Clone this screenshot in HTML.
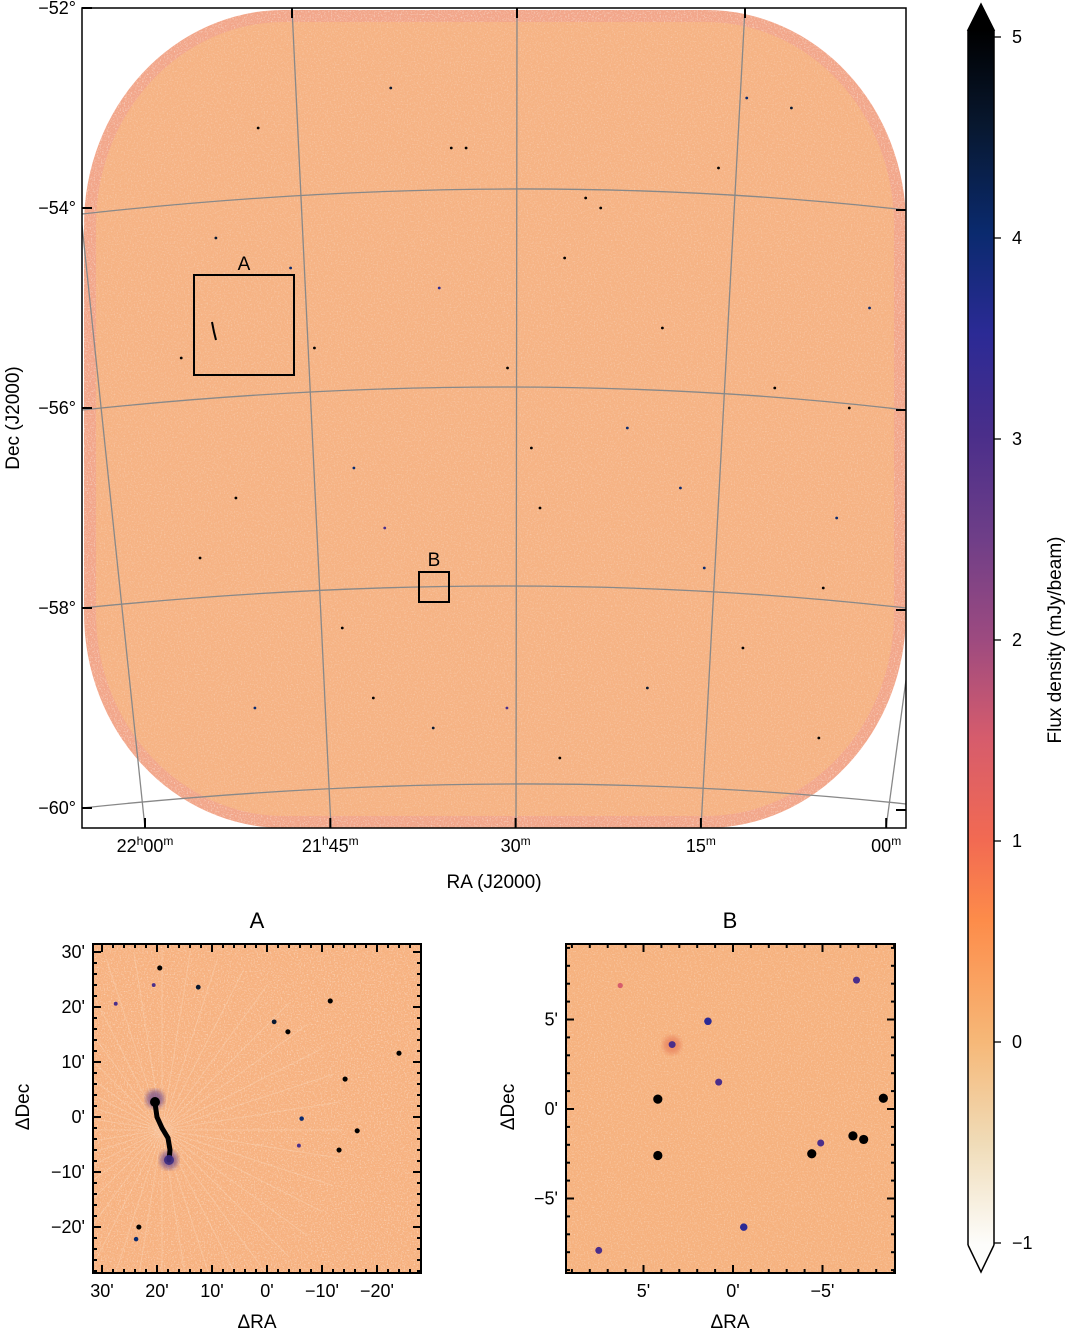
<!DOCTYPE html>
<html><head><meta charset="utf-8"><style>
html,body{margin:0;padding:0;background:#fff;}
svg{display:block;font-family:"Liberation Sans","DejaVu Sans",sans-serif;}
</style></head><body>
<svg id="fig" width="1067" height="1330" viewBox="0 0 1067 1330" xmlns="http://www.w3.org/2000/svg">
<defs>
<linearGradient id="cmap" x1="0" y1="1" x2="0" y2="0">
<stop offset="0" stop-color="#fdfdfb"/><stop offset="0.083" stop-color="#f0dcb8"/>
<stop offset="0.167" stop-color="#f6b878"/><stop offset="0.267" stop-color="#fd8c4a"/>
<stop offset="0.333" stop-color="#f26a52"/><stop offset="0.417" stop-color="#d65c6c"/>
<stop offset="0.5" stop-color="#9c4a80"/><stop offset="0.583" stop-color="#6e3e88"/>
<stop offset="0.667" stop-color="#4a2e8a"/><stop offset="0.75" stop-color="#2b2a95"/>
<stop offset="0.833" stop-color="#0a2a6e"/><stop offset="0.92" stop-color="#081830"/>
<stop offset="1" stop-color="#000"/></linearGradient>
<filter id="noise" x="0" y="0" width="100%" height="100%">
<feTurbulence type="fractalNoise" baseFrequency="0.9" numOctaves="2" seed="3"/>
<feColorMatrix type="matrix" values="0 0 0 0 1  0 0 0 0 0.45  0 0 0 0 0.3  0 0 0 1.6 -0.75"/>
<feComposite in2="SourceGraphic" operator="in"/></filter>
<filter id="noise2" x="0" y="0" width="100%" height="100%">
<feTurbulence type="fractalNoise" baseFrequency="0.7" numOctaves="2" seed="9"/>
<feColorMatrix type="matrix" values="0 0 0 0 1  0 0 0 0 0.95  0 0 0 0 0.9  0 0 0 1.6 -0.8"/>
<feComposite in2="SourceGraphic" operator="in"/></filter>
<filter id="blur2"><feGaussianBlur stdDeviation="2.5"/></filter>
<clipPath id="clipMain"><rect x="82" y="8" width="824" height="820"/></clipPath>
<clipPath id="clipA"><rect x="93" y="944" width="328" height="329"/></clipPath>
<clipPath id="clipB"><rect x="566" y="944" width="329" height="329"/></clipPath>
</defs>

<!-- MAIN IMAGE -->
<g clip-path="url(#clipMain)">
<rect x="84" y="10" width="822" height="818" rx="200" ry="215" fill="#f2a68a"/>
<rect x="84" y="10" width="822" height="818" rx="200" ry="215" fill="#f5b27f" filter="url(#noise2)" opacity="0.9"/>
<rect x="96" y="22" width="798" height="794" rx="188" ry="203" fill="#f5b383"/>
<rect x="96" y="22" width="798" height="794" rx="188" ry="203" fill="#f5b17f" filter="url(#noise)" opacity="0.7"/>
<rect x="96" y="22" width="798" height="794" rx="188" ry="203" fill="#f5b17f" filter="url(#noise2)" opacity="0.5"/>
<g id="mainSrc"></g>
<g fill="none" stroke="#888" stroke-width="1.3">
<path d="M82,214 Q516,166 906,210"/>
<path d="M82,410 Q516,364 906,410"/>
<path d="M82,608 Q516,564 906,608"/>
<path d="M82,808 Q516,762 906,804"/>
<path d="M82,225 L145,828"/>
<path d="M292,8 L331,828"/>
<path d="M517,8 L516,828"/>
<path d="M745,8 L701,828"/>
<path d="M906,680 L886,828"/>
</g>
<path d="M212,322 L214,332 L216,340" stroke="#000" stroke-width="2" fill="none"/>
</g>
<rect x="82" y="8" width="824" height="820" fill="none" stroke="#000" stroke-width="1.5"/>
<rect x="194" y="275" width="100" height="100" fill="none" stroke="#000" stroke-width="2"/>
<text x="244" y="270" font-size="19" text-anchor="middle">A</text>
<rect x="419" y="572" width="30" height="30" fill="none" stroke="#000" stroke-width="2"/>
<text x="434" y="566" font-size="19" text-anchor="middle">B</text>
<g id="mainAxes"></g>
<text transform="translate(19,418) rotate(-90)" font-size="19" text-anchor="middle">Dec (J2000)</text>
<text x="494" y="888" font-size="19" text-anchor="middle">RA (J2000)</text>

<!-- INSET A -->
<text x="257" y="928" font-size="22" text-anchor="middle">A</text>
<g clip-path="url(#clipA)">
<rect x="93" y="944" width="328" height="329" fill="#f6b27f"/>
<rect x="93" y="944" width="328" height="329" fill="#f6b27f" filter="url(#noise)" opacity="0.8"/>
<rect x="93" y="944" width="328" height="329" fill="#f6b27f" filter="url(#noise2)" opacity="0.8"/>
<g id="raysA" stroke="#fbe3cc" stroke-width="1" opacity="0.3"></g>
<circle cx="155" cy="1099" r="9" fill="#5a3a90" opacity="0.6" filter="url(#blur2)"/>
<circle cx="169" cy="1160" r="9" fill="#5a3a90" opacity="0.6" filter="url(#blur2)"/>
<path d="M155,1103 L157,1117 L162,1128 L168,1138 L170,1150 L169,1160" stroke="#000" stroke-width="5" fill="none" stroke-linecap="round"/>
<circle cx="155" cy="1102" r="5" fill="#000"/>
<circle cx="169" cy="1160" r="5" fill="#3a2a80" opacity="0.9"/>
<g id="srcA"></g>
</g>
<g id="axesA"></g>
<text transform="translate(29,1107) rotate(-90)" font-size="19" text-anchor="middle">ΔDec</text>
<text x="257" y="1328" font-size="19" text-anchor="middle">ΔRA</text>

<!-- INSET B -->
<text x="730" y="928" font-size="22" text-anchor="middle">B</text>
<g clip-path="url(#clipB)">
<rect x="566" y="944" width="329" height="329" fill="#f6b27f"/>
<rect x="566" y="944" width="329" height="329" fill="#f6b27f" filter="url(#noise2)" opacity="0.6"/>
<circle cx="672" cy="1045" r="9" fill="#e98660" opacity="0.8" filter="url(#blur2)"/>
<g id="srcB"></g>
</g>
<g id="axesB"></g>
<text transform="translate(514,1107) rotate(-90)" font-size="19" text-anchor="middle">ΔDec</text>
<text x="730" y="1328" font-size="19" text-anchor="middle">ΔRA</text>

<!-- COLORBAR -->
<g>
<path d="M968,30 L981,4 L994,30 Z" fill="#000" stroke="#000" stroke-width="1.5"/>
<rect x="968" y="30" width="26" height="1215" fill="url(#cmap)"/>
<path d="M968,1245 L981,1272 L994,1245" fill="#fdfdfb" stroke="#000" stroke-width="1.5"/>
<path d="M968,1245 L968,30 M994,30 L994,1245" stroke="#000" stroke-width="1.5" fill="none"/>
<g id="cbTicks"></g>
<text transform="translate(1061,640) rotate(-90)" font-size="19" text-anchor="middle">Flux density (mJy/beam)</text>
</g>
</svg>
<script>
const NS="http://www.w3.org/2000/svg";
// ---- data ----
const cbTickValues=[-1,0,1,2,3,4,5];
const decTicks=[-52,-54,-56,-58,-60];
const raTickLabels=["22h00m","21h45m","30m","15m","00m"];
const raTickHours=[22.0,21.75,21.5,21.25,21.0];
const insetATicks=[30,20,10,0,-10,-20];
const insetBTicks=[5,0,-5];
// inset A point sources: dRA, dDec (arcmin), flux (mJy/beam)
const srcA_ra=[19.5,12.5,-11.5,-3.8,-1.3,-24,-14.2,-16.4,-13.1,23.3,23.8,-6.3,-5.8,27.5,20.6];
const srcA_dec=[27.1,23.6,21.1,15.5,17.3,11.6,6.9,-2.5,-6,-20,-22.2,-0.3,-5.2,20.6,24];
const srcA_flux=[5,4.5,5,5,4.5,5,5,5,5,5,4,4,3,3,3];
// inset B point sources
const srcB_ra=[4.2,4.2,3.4,0.8,1.4,-4.4,-6.7,-7.3,-8.4,-0.6,7.5,-6.9,6.3,-4.9];
const srcB_dec=[-2.6,0.55,3.6,1.5,4.9,-2.5,-1.5,-1.7,0.6,-6.6,-7.9,7.2,6.9,-1.9];
const srcB_flux=[5,5,3,3,3.5,5,5,5,5,3.5,3,3,1.5,3];
// main map compact sources: RA (hours), Dec (deg)
const mainSrcRA=[21.56,21.72,21.93,21.12,21.30,21.47,21.80,21.05,21.62,21.20,21.38,21.86,21.51,21.09,21.66,21.28,21.58,21.43,21.35,21.15,21.90,21.74,21.68,21.22,21.02,21.45,21.84,21.33,21.10,21.60,21.77,21.25,21.48,21.95,21.18,21.40,21.70,21.07,21.52,21.88];
const mainSrcDec=[-53.4,-56.6,-57.5,-53.0,-55.2,-57.0,-54.6,-56.0,-59.2,-58.4,-54.0,-59.0,-55.6,-57.8,-52.8,-56.8,-53.4,-54.5,-56.2,-55.8,-54.3,-58.2,-57.2,-53.6,-55.0,-59.5,-53.2,-58.8,-59.3,-54.8,-55.4,-57.6,-56.4,-55.5,-52.9,-53.9,-58.9,-57.1,-59.0,-56.9];
const mainSrcFlux=[5,4,5,4.5,5,5,4,5,4.5,5,5,4,5,5,4.5,4,5,5,4,5,4.5,5,3,5,4,5,5,4.5,5,3.5,5,4,5,5,4,5,5,4,3,5];

// ---- scales ----
const cbY=v=>1042-201*v;
const decY=d=>8+(-52-d)*100;
const raX=h=>145+(22-h)/0.25*185.3;
const aX=v=>267-5.5*v, aY=v=>1117-5.5*v;
const bX=v=>733-17.9*v, bY=v=>1109-17.9*v;
function col(v){v=Math.max(-1,Math.min(5,v));
 const st=[[-1,[253,253,251]],[-0.5,[240,220,184]],[0,[246,184,120]],[0.6,[253,140,74]],[1,[242,106,82]],[1.5,[214,92,108]],[2,[156,74,128]],[2.5,[110,62,136]],[3,[74,46,138]],[3.5,[43,42,149]],[4,[10,42,110]],[4.5,[8,24,48]],[5,[0,0,0]]];
 for(let i=0;i<st.length-1;i++){if(v<=st[i+1][0]){const t=(v-st[i][0])/(st[i+1][0]-st[i][0]);const a=st[i][1],b=st[i+1][1];return `rgb(${a.map((x,k)=>Math.round(x+(b[k]-x)*t)).join(',')})`;}}return '#000';}
function mk(tag,attrs,parent){const e=document.createElementNS(NS,tag);for(const k in attrs)e.setAttribute(k,attrs[k]);parent.appendChild(e);return e;}

// colorbar ticks
const cbG=document.getElementById('cbTicks');
cbTickValues.forEach(v=>{const y=cbY(v);
 const t=mk('line',{x1:994,x2:1001,y1:y,y2:y,stroke:'#000','stroke-width':1.3},cbG);
 
 
 const l=mk('text',{x:1012,y:y+6,'font-size':18},cbG);l.textContent=v<0?'\u2212'+(-v):String(v);
 
 });

// main axes
const mA=document.getElementById('mainAxes');
decTicks.forEach(d=>{const y=decY(d);
 mk('line',{x1:82,x2:92,y1:y,y2:y,stroke:'#000','stroke-width':2},mA);
 if(d!==-52)mk('line',{x1:896,x2:906,y1:y+2,y2:y+2,stroke:'#000','stroke-width':2},mA);
 const l=mk('text',{x:76,y:y+6,'font-size':18,'text-anchor':'end'},mA);l.textContent='\u2212'+(-d)+'\u00b0';
 
 });
raTickHours.forEach((h,i)=>{const x=raX(h);
 mk('line',{x1:x,x2:x,y1:818,y2:828,stroke:'#000','stroke-width':2},mA);
 const l=mk('text',{x:x,y:852,'font-size':18,'text-anchor':'middle'},mA);
 const s=raTickLabels[i];const m=s.match(/^(\d+h)?(\d+)m$/);
 if(m[1]){const t1=mk('tspan',{},l);t1.textContent=m[1].slice(0,-1);const t2=mk('tspan',{'font-size':12,dy:-7},l);t2.textContent='h';const t3=mk('tspan',{dy:7},l);t3.textContent=m[2];}
 else{const t3=mk('tspan',{},l);t3.textContent=m[2];}
 const t4=mk('tspan',{'font-size':12,dy:-7},l);t4.textContent='m';
 
 });
[292,517,745].forEach(x=>mk('line',{x1:x,x2:x,y1:8,y2:18,stroke:'#000','stroke-width':2},mA));

// main sources
const ms=document.getElementById('mainSrc');
mainSrcRA.forEach((h,i)=>{const c=mk('circle',{cx:raX(h)+(decY(mainSrcDec[i])-400)*0.02,cy:decY(mainSrcDec[i]),r:1.4,fill:col(mainSrcFlux[i])},ms);
 
 });

// inset axes
function insetAxes(gid,x0,y0,w,h,ticks,sx,sy,minorStep,lo,hi,prefix){
 const g=document.getElementById(gid);
 mk('rect',{x:x0,y:y0,width:w,height:h,fill:'none',stroke:'#000','stroke-width':2},g);
 for(let v=lo;v<=hi;v+=minorStep){const major=ticks.includes(v);const L=major?8:4;
  const x=sx(v),y=sy(v);
  if(x>=x0&&x<=x0+w){mk('line',{x1:x,x2:x,y1:y0+h,y2:y0+h-L,stroke:'#000','stroke-width':2},g);mk('line',{x1:x,x2:x,y1:y0,y2:y0+L,stroke:'#000','stroke-width':2},g);}
  if(y>=y0&&y<=y0+h){mk('line',{x1:x0,x2:x0+L,y1:y,y2:y,stroke:'#000','stroke-width':2},g);mk('line',{x1:x0+w,x2:x0+w-L,y1:y,y2:y,stroke:'#000','stroke-width':2},g);}}
 ticks.forEach(v=>{const lab=(v<0?'\u2212'+(-v):String(v))+"'";
  const lx=mk('text',{x:sx(v),y:y0+h+24,'font-size':18,'text-anchor':'middle'},g);lx.textContent=lab;
  
  
  if(sy(v)>=y0&&sy(v)<=y0+h){const ly=mk('text',{x:x0-8,y:sy(v)+6,'font-size':18,'text-anchor':'end'},g);ly.textContent=lab;
  
  }});
}
insetAxes('axesA',93,944,328,329,insetATicks,aX,aY,2,-30,32,'inset-a');
insetAxes('axesB',566,944,329,329,insetBTicks,bX,bY,1,-10,10,'inset-b');

// rays in A
const ra=document.getElementById('raysA');
for(let k=0;k<40;k++){const a=k*Math.PI/20;mk('line',{x1:162,y1:1130,x2:162+180*Math.cos(a),y2:1130+180*Math.sin(a)},ra);}

// sources
function drawSrc(gid,ras,decs,fl,sx,sy,rs,nm){const g=document.getElementById(gid);
 ras.forEach((r,i)=>{const v=fl[i];const c=mk('circle',{cx:sx(r),cy:sy(decs[i]),r:rs*(0.4+v/8),fill:col(v)},g);
  
  });}
drawSrc('srcA',srcA_ra,srcA_dec,srcA_flux,aX,aY,2.5,'inset-a-source');
drawSrc('srcB',srcB_ra,srcB_dec,srcB_flux,bX,bY,4.5,'inset-b-source');
</script>
</body></html>
